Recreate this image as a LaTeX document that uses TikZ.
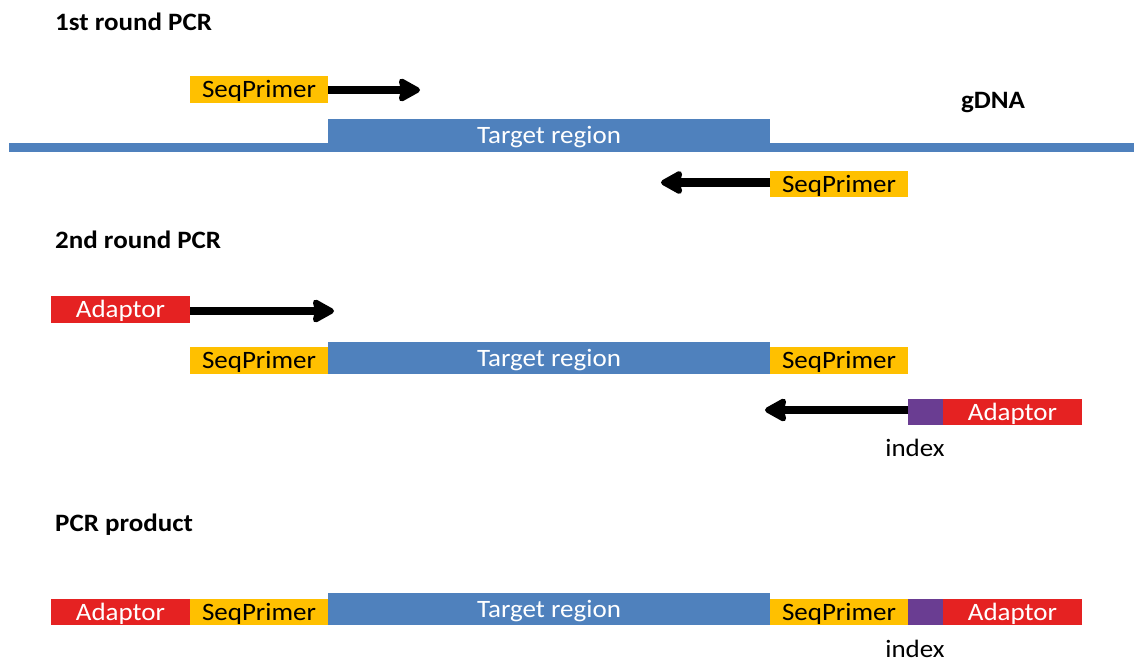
\documentclass[tikz,border=0pt]{standalone}
\usepackage{fontspec}
\setmainfont{Carlito}[FakeStretch=1.08]
\usetikzlibrary{arrows.meta}
\definecolor{dnablue}{HTML}{4F81BD}
\definecolor{primeryel}{HTML}{FFC000}
\definecolor{adaptred}{HTML}{E52222}
\definecolor{idxpurple}{HTML}{6A3D92}
\tikzset{
  blk/.style={rectangle, inner sep=0pt, outer sep=0pt, draw=none, anchor=north west, text height=16pt, text depth=0pt, font=\fontsize{25}{30}\selectfont},
  seqbox/.style={blk, fill=primeryel, text=black, minimum width=138pt, minimum height=27pt},
  adbox/.style={blk, fill=adaptred, text=white, minimum width=139pt, minimum height=27pt},
  idxbox/.style={blk, fill=idxpurple, minimum width=35pt, minimum height=27pt},
  tgtbox/.style={blk, fill=dnablue, text=white, minimum width=442pt},
  title/.style={anchor=west, inner sep=0pt, font=\fontsize{25}{30}\selectfont\bfseries},
  lbl/.style={inner sep=0pt, font=\fontsize{25}{30}\selectfont},
  parrow/.style={line width=8.5pt, -{Stealth[length=25pt,width=27pt,inset=3pt,round]}}
}
\begin{document}
\begin{tikzpicture}[x=1pt,y=-1pt]
\useasboundingbox (0,0) rectangle (1134,662);
% ---- 1st round
\node[title] (t1) at (55,22) {1st round PCR};
\node[blk, fill=dnablue, minimum width=1125pt, minimum height=9pt, text height=0pt] (gdna) at (9,143) {};
\node[tgtbox, minimum height=33pt] (tr1) at (328,119) {Target region};
\node[lbl, font=\fontsize{25}{30}\selectfont\bfseries] (gl) at (993,103) {gDNA};
\node[seqbox] (sp1) at (190,76) {SeqPrimer};
\coordinate (a1) at (420,90);
\draw[parrow] (sp1.east |- a1) -- (a1);
\node[seqbox, minimum height=26pt] (sp2) at (770,171) {SeqPrimer};
\coordinate (a2) at (661,182.5);
\draw[parrow] (sp2.west |- a2) -- (a2);
% ---- 2nd round
\node[title] (t2) at (55,240) {2nd round PCR};
\node[adbox] (ad1) at (51,296) {Adaptor};
\coordinate (a3) at (334,311);
\draw[parrow] (ad1.east |- a3) -- (a3);
\node[seqbox] (sp3) at (190,347) {SeqPrimer};
\node[tgtbox, minimum height=32pt] (tr2) at (328,342) {Target region};
\node[seqbox] (sp4) at (770,347) {SeqPrimer};
\node[idxbox, minimum height=26pt] (ix1) at (908,399) {};
\node[adbox, minimum height=26pt] (ad2) at (943,399) {Adaptor};
\coordinate (a4) at (765,410);
\draw[parrow] (ix1.west |- a4) -- (a4);
\node[lbl] (il1) at (915,448) {index};
% ---- PCR product
\node[title] (t3) at (55,525) {PCR product};
\node[adbox, minimum height=26pt] (ad3) at (51,599) {Adaptor};
\node[seqbox, minimum height=26pt] (sp5) at (190,599) {SeqPrimer};
\node[tgtbox, minimum height=32pt] (tr3) at (328,593) {Target region};
\node[seqbox, minimum height=26pt] (sp6) at (770,599) {SeqPrimer};
\node[idxbox, minimum height=26pt] (ix2) at (908,599) {};
\node[adbox, minimum height=26pt] (ad4) at (943,599) {Adaptor};
\node[lbl] (il2) at (915,649) {index};
\end{tikzpicture}
\end{document}
